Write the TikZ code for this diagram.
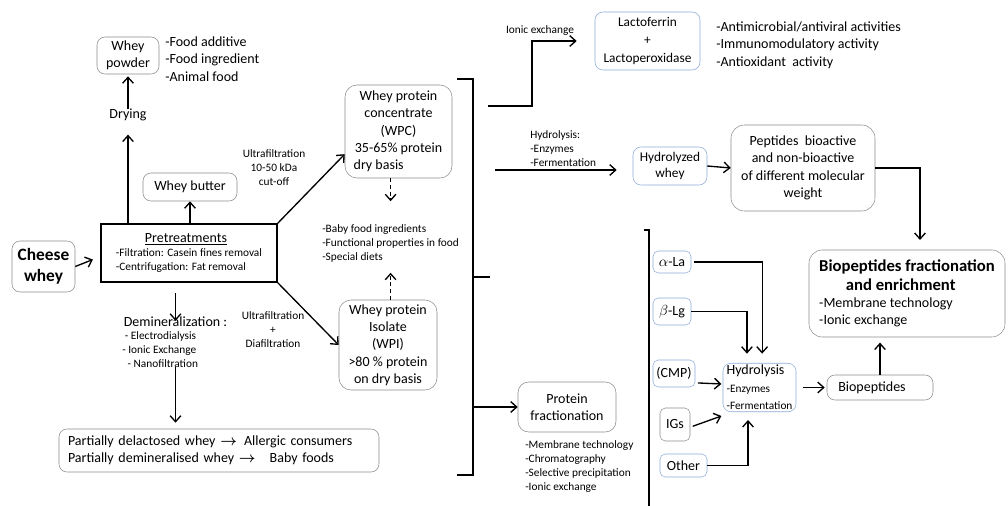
\documentclass[tikz,border=0pt]{standalone}
\usepackage{amsmath}
\usepackage{fontspec}
\setmainfont{Carlito}
\usepackage{tikz}
\usetikzlibrary{arrows.meta, positioning, calc}
\definecolor{boxgray}{RGB}{140, 140, 140}
\definecolor{boxblue}{RGB}{140, 170, 215}
\newcommand{\txtnorm}{\fontsize{10.5}{13}\selectfont}
\newcommand{\txtsmall}{\fontsize{8.5}{10.5}\selectfont}

\begin{document}
\begin{tikzpicture}[x=0.75pt, y=-0.75pt,
    box/.style={rectangle, draw=boxgray, rounded corners=6pt, align=center,
                inner sep=1pt, font=\txtnorm},
    bbox/.style={box, draw=boxblue},
    lbl/.style={align=left, inner sep=0pt, font=\txtsmall},
    txt/.style={align=left, inner sep=0pt, font=\txtnorm},
    arr/.style={-{Straight Barb[length=4.5pt,width=8pt]}, line width=1pt},
    dasharr/.style={arr, dash pattern=on 3pt off 2pt},
    brk/.style={line width=1pt}
]
\useasboundingbox (0,0) rectangle (1008,506);

% left part
\node[box, minimum width=47.25pt, minimum height=38.25pt,
      font=\fontsize{13}{16}\selectfont\bfseries] (cheese) at (43.5,266.5) {Cheese\\whey};
\node[rectangle, draw, line width=1pt, minimum width=132pt, minimum height=43.5pt,
      align=left, inner sep=0pt, font=\txtsmall] (pretreat) at (189,253)
      {\hspace*{21.75pt}{\txtnorm\underline{Pretreatments}}\\-Filtration: Casein fines removal\\-Centrifugation: Fat removal};
\node[box, minimum width=70.5pt, minimum height=21pt] (butter) at (190,187) {Whey butter};
\node[box, minimum width=46.5pt, minimum height=27.75pt] (powder) at (128,55.5) {Whey\\powder};
\node[txt, anchor=west] (uses) at (165,59) {-Food additive\\-Food ingredient\\-Animal food};
\node[txt] (drying) at (128,115) {Drying};
\node[lbl, align=center] (uf) at (274,168) {Ultrafiltration\\10-50 kDa\\cut-off};
\node[lbl, align=center] (ufdf) at (273,330) {Ultrafiltration\\+\\Diafiltration};
\node[txt] (demin) at (175.5,322) {Demineralization :};
\node[lbl, anchor=north west] (deminlist) at (122,331)
      {\hspace*{2pt}- Electrodialysis\\- Ionic Exchange\\\hspace*{4pt}- Nanofiltration};
\node[box, text width=226.5pt, inner xsep=6.75pt, minimum height=32.25pt, align=left] (delact) at (219,450.5)
      {Partially delactosed whey $\boldsymbol{\rightarrow}$\ \,Allergic consumers\\
       Partially demineralised whey $\boldsymbol{\rightarrow}$\ \ \ Baby foods};

% WPC / WPI
\node[box, rounded corners=9pt, minimum width=80.25pt, minimum height=69.75pt] (wpc) at (398.5,131.5)
      {Whey protein\\concentrate\\(WPC)\\35-65\% protein\\\makebox[6.4em][l]{dry basis}};
\node[box, rounded corners=9pt, minimum width=73.5pt, minimum height=67.5pt] (wpi) at (388,345)
      {Whey protein\\Isolate\\(WPI)\\>80 \% protein\\on dry basis};
\node[lbl, anchor=west] (babylist) at (322,243)
      {-Baby food ingredients\\-Functional properties in food\\-Special diets};

% right part
\node[bbox, minimum width=78.75pt, minimum height=43.5pt, font=\fontsize{10}{13.5}\selectfont] (lacto) at (647.5,41)
      {Lactoferrin\\+\\Lactoperoxidase};
\node[txt, anchor=west] (acts) at (716,45)
      {-Antimicrobial/antiviral activities\\-Immunomodulatory activity\\-Antioxidant\ \ activity};
\node[lbl] (ionic) at (540,31) {Ionic exchange};
\node[lbl, anchor=west] (hydlbl) at (530,149) {Hydrolysis:\\-Enzymes\\-Fermentation};
\node[bbox, minimum width=55.5pt, minimum height=28.5pt, font=\fontsize{10}{12.5}\selectfont] (hydwhey) at (670,166)
      {Hydrolyzed\\whey};
\node[box, rounded corners=10pt, minimum width=108pt, minimum height=64.5pt] (peptides) at (803,168)
      {Peptides\ \ bioactive\\and non-bioactive\\of different molecular\\weight};
\node[box, rounded corners=10pt, minimum width=147pt, minimum height=65.25pt, align=left] (biofrac) at (907,293.5)
      {{\fontsize{12.5}{15}\selectfont\bfseries Biopeptides fractionation}\\[1pt]
       {\fontsize{12.5}{15}\selectfont\bfseries\hspace*{1.6em}and enrichment}\\
       -Membrane technology\\-Ionic exchange};
\node[box, minimum width=79.5pt, minimum height=18.75pt] (biopep) at (880,387.5) {Biopeptides\hspace{12pt}};
\node[bbox, minimum width=54.75pt, minimum height=32.25pt, align=left, inner sep=1.5pt] (hydro) at (759.5,387.5)
      {Hydrolysis\\{\txtsmall -Enzymes}\\{\txtsmall -Fermentation}};
\node[box, rounded corners=8pt, minimum width=73.5pt, minimum height=37.5pt] (protfrac) at (567,407)
      {Protein\\fractionation};
\node[lbl, anchor=north west] (protlist) at (525,440)
      {-Membrane technology\\-Chromatography\\-Selective precipitation\\-Ionic exchange};

\node[bbox, rounded corners=4pt, minimum width=28.5pt, minimum height=16.5pt] (ala) at (672,262) {$\alpha$-La};
\node[bbox, rounded corners=4pt, minimum width=28.5pt, minimum height=20.25pt] (blg) at (672,311.5) {$\beta$-Lg};
\node[bbox, rounded corners=4pt, minimum width=31.5pt, minimum height=20.25pt] (cmp) at (674,373.5) {(CMP)};
\node[box, rounded corners=4pt, minimum width=22.5pt, minimum height=24.75pt] (igs) at (675,424.5) {IGs};
\node[bbox, rounded corners=4pt, minimum width=35.25pt, minimum height=17.25pt] (other) at (683.5,465.5) {Other};

% bracket
\coordinate (toionic) at (488,106);
\coordinate (tohyd) at (495,170);
\coordinate (toprot) at (473,407);
\coordinate (tobio) at (920,250);
\draw[brk] (457,79) -- (473,79) -- (473,475) -- (457,475);
\draw[brk] (473,277) -- (490,277);
\draw[brk] (644,230) -- (649,230) -- (649,506);

% arrows
\draw[arr, shorten >=6pt] (cheese.east) -- ([yshift=-2.7pt]pretreat.west);
\draw[arr, shorten >=10pt] (drying.north |- pretreat.north) -- (drying.south);
\draw[arr, shorten >=1.5pt] (drying.north) -- (powder.south);
\draw[arr] (butter.south |- pretreat.north) -- (butter.south);
\draw[arr] (pretreat.north east) -- ([yshift=-17pt]wpc.west);
\draw[arr] (pretreat.south east) -- (wpi.west);
\draw[dasharr, shorten >=17pt] (babylist.north |- wpc.south) -- (babylist.north);
\draw[dasharr, shorten >=8pt] (babylist.south |- wpi.north) -- (babylist.south);
\draw[arr, shorten <=8pt, shorten >=-3pt] (demin.north |- pretreat.south) -- (demin.north);
\draw[arr, shorten >=4.5pt] (demin.south |- deminlist.south) -- (demin.south |- delact.north);

\draw[arr, shorten >=13.5pt] (toionic) -- ++(44,0) |- (lacto.west);
\draw[arr, shorten >=12pt] (tohyd) -- (tohyd -| hydwhey.west);
\draw[arr] (toprot) -- (protfrac.west);
\draw[arr] (hydwhey.east) -- (peptides.west);
\draw[arr, shorten >=7.5pt] (peptides.east) -| (tobio);

\draw[arr, shorten >=7pt] ([xshift=2pt]ala.east) -| ([xshift=2pt]hydro.north);
\draw[arr, shorten >=7pt] (blg.east) -| ([xshift=-9.4pt]hydro.north);
\draw[arr, shorten <=2pt, shorten >=1pt] ([yshift=-7pt]cmp.east) -- ([yshift=2.6pt]hydro.west);
\draw[arr, shorten <=2pt] ([yshift=-2pt]igs.east) -- ([shift={(-1pt,-3pt)}]hydro.south west);
\draw[arr, shorten >=6pt] (other.east) -| ([xshift=-8.6pt]hydro.south);
\draw[arr, shorten <=5pt, shorten >=1.5pt] (hydro.east) -- (biopep.west);
\draw[arr, shorten >=4pt] (biopep.north) -- (biopep.north |- biofrac.south);
\end{tikzpicture}
\end{document}
